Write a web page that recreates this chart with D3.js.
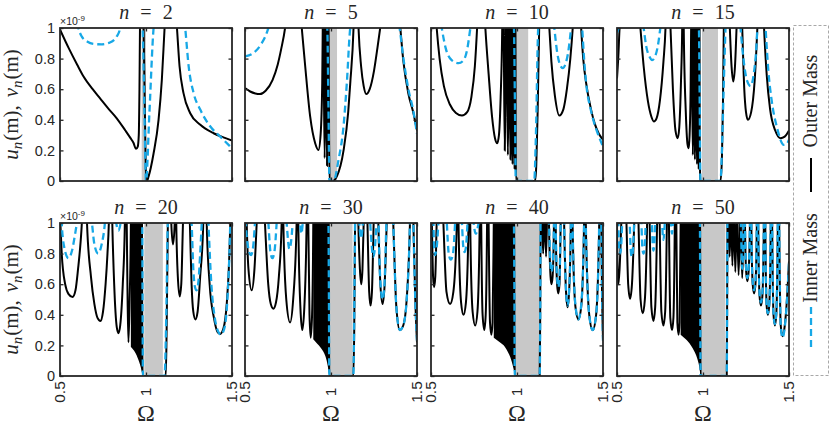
<!DOCTYPE html>
<html><head><meta charset="utf-8">
<script src="https://cdn.jsdelivr.net/npm/d3@7"></script>
<style>body{margin:0;background:#fff}</style>
</head><body><svg id="c" width="830" height="425"></svg>
<script>
const nValues=[2,5,10,15,20,30,40,50];
const xTicks=[0.5,1,1.5];
const xTickLabels=["0.5","1","1.5"];
const yTicks=[0,0.2,0.4,0.6,0.8,1];
const yTickLabels=["0","0.2","0.4","0.6","0.8","1"];
const legendLabels=["Outer Mass","Inner Mass"];
const exponentLabel="-9";

// Omega, amplitude (x1e-9); values > 1 lie above the visible range
const outer2=[[0.5,0.99],[0.55,0.87],[0.6,0.76],[0.636,0.685],[0.69,0.6],[0.733,0.54],[0.78,0.475],[0.83,0.41],[0.88,0.33],[0.91,0.28],[0.927,0.25],[0.942,0.21],[0.952,0.225],[0.958,0.3],[0.962,0.6],[0.965,1.0],[0.975,1.6],[0.986,1.0],[0.993,0.5],[1.0,0.05],[1.005,0.0],[1.015,0.03],[1.044,0.18],[1.073,0.40],[1.092,0.66],[1.108,1.0],[1.14,1.6],[1.18,1.0],[1.195,0.75],[1.218,0.574],[1.257,0.443],[1.316,0.367],[1.393,0.312],[1.45,0.285],[1.5,0.265]];
const inner2=[[0.5,1.6],[0.58,1.2],[0.607,1.0],[0.626,0.945],[0.66,0.91],[0.7,0.895],[0.743,0.893],[0.79,0.905],[0.83,0.945],[0.85,1.0],[0.9,1.6],[0.98,1.0],[0.991,0.45],[1.0,0.0],[1.02,0.45],[1.044,1.0],[1.13,1.6],[1.228,1.0],[1.248,0.75],[1.277,0.574],[1.316,0.465],[1.374,0.356],[1.432,0.29],[1.5,0.214]];
const outer5=[[0.5,0.607],[0.53,0.585],[0.56,0.572],[0.587,0.568],[0.62,0.59],[0.66,0.66],[0.69,0.76],[0.71,0.86],[0.733,1.0],[0.78,1.6],[0.83,1.0],[0.85,0.75],[0.879,0.42],[0.908,0.247],[0.927,0.203],[0.94,0.31],[0.949,0.64],[0.952,1.0],[0.955,1.6],[0.959,0.6],[0.963,0.15],[0.967,0.6],[0.97,1.6],[0.974,0.5],[0.977,0.1],[0.98,1.0],[0.983,1.6],[0.986,1.0],[0.989,0.3],[0.992,0.0],[1.01,0.0],[1.034,0.03],[1.073,0.2],[1.1,0.45],[1.112,0.64],[1.131,1.0],[1.145,1.6],[1.16,1.0],[1.175,0.75],[1.19,0.62],[1.205,0.568],[1.225,0.6],[1.25,0.72],[1.27,0.87],[1.286,1.0],[1.35,1.6],[1.403,1.0],[1.42,0.79],[1.45,0.57],[1.48,0.44],[1.5,0.33]];
const inner5=[[0.5,0.814],[0.549,0.836],[0.597,0.9],[0.62,0.95],[0.636,1.0],[0.8,1.6],[0.978,1.0],[0.985,0.5],[0.991,0.0],[1.015,0.0],[1.044,0.14],[1.073,0.36],[1.092,0.64],[1.112,1.0],[1.25,1.6],[1.399,1.0],[1.42,0.81],[1.45,0.6],[1.48,0.45],[1.5,0.31]];
const outer10=[[0.5,1.6],[0.533,1.0],[0.55,0.8],[0.575,0.62],[0.61,0.5],[0.645,0.445],[0.68,0.428],[0.71,0.45],[0.735,0.55],[0.755,0.75],[0.768,1.0],[0.79,1.6],[0.816,1.0],[0.835,0.7],[0.855,0.42],[0.872,0.28],[0.885,0.247],[0.895,0.3],[0.905,0.55],[0.914,1.0],[0.919,1.6],[0.924,0.8],[0.929,0.2],[0.934,0.8],[0.939,1.6],[0.943,0.6],[0.947,0.17],[0.951,0.6],[0.955,1.6],[0.959,0.5],[0.962,0.14],[0.965,0.5],[0.968,1.6],[0.971,0.4],[0.974,0.11],[0.977,0.4],[0.98,1.6],[0.983,0.35],[0.986,0.08],[0.988,0.6],[0.99,1.6],[0.992,0.5],[0.994,0.0],[1.05,0.0],[1.105,0.0],[1.112,0.1],[1.12,0.45],[1.129,1.0],[1.16,1.6],[1.188,1.0],[1.2,0.78],[1.22,0.56],[1.246,0.428],[1.27,0.47],[1.29,0.6],[1.31,0.8],[1.324,1.0],[1.35,1.6],[1.373,1.0],[1.385,0.8],[1.402,0.64],[1.43,0.47],[1.451,0.378],[1.475,0.31],[1.5,0.27]];
const inner10=[[0.5,1.6],[0.5625,1.0],[0.585,0.87],[0.62,0.79],[0.66,0.77],[0.69,0.79],[0.712,0.87],[0.729,1.0],[0.85,1.6],[0.982,1.0],[0.988,0.5],[0.993,0.0],[1.1,0.0],[1.11,0.3],[1.123,1.0],[1.17,1.6],[1.217,1.0],[1.235,0.83],[1.25,0.76],[1.266,0.738],[1.28,0.76],[1.3,0.86],[1.314,1.0],[1.345,1.6],[1.379,1.0],[1.39,0.8],[1.402,0.64],[1.43,0.46],[1.46,0.34],[1.48,0.28],[1.5,0.225]];
const outer15=[[0.5,0.67],[0.508,0.82],[0.515,1.0],[0.58,1.6],[0.636,1.0],[0.655,0.75],[0.68,0.52],[0.7,0.42],[0.714,0.389],[0.73,0.41],[0.75,0.53],[0.77,0.78],[0.782,1.0],[0.795,1.6],[0.811,1.0],[0.825,0.6],[0.84,0.33],[0.853,0.28],[0.862,0.35],[0.872,0.65],[0.879,1.0],[0.884,1.6],[0.888,1.0],[0.9,0.45],[0.91,0.24],[0.917,0.214],[0.922,0.3],[0.928,0.6],[0.931,1.0],[0.934,1.6],[0.938,0.5],[0.941,0.17],[0.944,0.5],[0.947,1.6],[0.95,0.45],[0.953,0.14],[0.956,0.45],[0.959,1.6],[0.962,0.4],[0.965,0.11],[0.968,0.4],[0.97,1.6],[0.972,0.35],[0.975,0.08],[0.977,0.35],[0.979,1.6],[0.981,0.3],[0.983,0.04],[0.985,0.0],[1.05,0.0],[1.102,0.0],[1.11,0.15],[1.116,0.5],[1.121,1.0],[1.14,1.6],[1.156,1.0],[1.166,0.75],[1.176,0.65],[1.186,0.75],[1.195,1.0],[1.21,1.6],[1.228,1.0],[1.24,0.6],[1.25,0.45],[1.261,0.40],[1.28,0.45],[1.3,0.65],[1.316,1.0],[1.335,1.6],[1.355,1.0],[1.37,0.7],[1.39,0.47],[1.42,0.33],[1.45,0.28],[1.475,0.29],[1.5,0.33]];
const inner15=[[0.5,0.97],[0.51,1.0],[0.58,1.6],[0.655,1.0],[0.67,0.88],[0.69,0.81],[0.704,0.79],[0.72,0.81],[0.74,0.9],[0.752,1.0],[0.87,1.6],[0.976,1.0],[0.981,0.5],[0.985,0.0],[1.102,0.0],[1.11,0.2],[1.12,0.6],[1.131,1.0],[1.17,1.6],[1.218,1.0],[1.235,0.8],[1.255,0.66],[1.277,0.62],[1.295,0.7],[1.31,0.87],[1.316,1.0],[1.34,1.6],[1.364,1.0],[1.38,0.72],[1.4,0.52],[1.43,0.35],[1.47,0.236],[1.485,0.24],[1.5,0.27]];
const outer20=[[0.5,1.05],[0.51,0.8],[0.53,0.6],[0.55,0.535],[0.573,0.516],[0.59,0.56],[0.605,0.7],[0.62,0.88],[0.627,1.0],[0.642,1.6],[0.657,1.0],[0.68,0.65],[0.7,0.47],[0.718,0.38],[0.735,0.36],[0.75,0.42],[0.765,0.6],[0.776,0.8],[0.784,1.0],[0.794,1.6],[0.804,1.0],[0.815,0.6],[0.83,0.32],[0.84,0.28],[0.85,0.33],[0.865,0.6],[0.877,1.0],[0.882,1.6],[0.888,1.0],[0.893,0.5],[0.898,0.22],[0.905,0.5],[0.912,1.0],[0.915,1.6],[0.975,1.6],[0.978,0.4],[0.98,0.0],[1.05,0.0],[1.115,0.0],[1.12,0.3],[1.127,1.0],[1.137,1.6],[1.147,1.0],[1.157,0.86],[1.167,1.0],[1.17,1.6],[1.176,1.0],[1.185,0.65],[1.196,0.52],[1.205,0.6],[1.215,1.0],[1.235,1.6],[1.255,1.0],[1.265,0.6],[1.275,0.42],[1.287,0.37],[1.3,0.42],[1.315,0.65],[1.333,1.0],[1.343,1.6],[1.353,1.0],[1.37,0.6],[1.395,0.38],[1.415,0.29],[1.431,0.275],[1.45,0.31],[1.47,0.48],[1.485,0.8],[1.49,1.0],[1.5,1.4]];
const inner20=[[0.5,1.6],[0.51,1.0],[0.525,0.84],[0.549,0.77],[0.57,0.82],[0.588,0.93],[0.598,1.0],[0.64,1.6],[0.686,1.0],[0.7,0.86],[0.722,0.80],[0.742,0.86],[0.761,1.0],[0.79,1.6],[0.827,1.0],[0.84,0.95],[0.853,1.0],[0.92,1.6],[0.978,1.0],[0.98,0.5],[0.982,0.0],[1.108,0.0],[1.118,0.4],[1.127,1.0],[1.2,1.6],[1.265,1.0],[1.275,0.7],[1.285,0.58],[1.294,0.56],[1.305,0.62],[1.315,0.8],[1.324,1.0],[1.343,1.6],[1.363,1.0],[1.38,0.6],[1.4,0.38],[1.42,0.29],[1.435,0.27],[1.455,0.31],[1.472,0.48],[1.485,0.8],[1.49,1.0],[1.5,1.4]];
const outer30=[[0.5,1.6],[0.51,1.0],[0.52,0.7],[0.539,0.56],[0.555,0.7],[0.568,1.0],[0.59,1.6],[0.616,1.0],[0.635,0.6],[0.65,0.47],[0.665,0.44],[0.68,0.48],[0.697,0.65],[0.713,1.0],[0.718,1.6],[0.723,1.0],[0.74,0.5],[0.762,0.35],[0.78,0.5],[0.8,1.0],[0.805,1.6],[0.81,1.0],[0.822,0.45],[0.833,0.3],[0.845,0.45],[0.858,1.0],[0.863,1.6],[0.868,1.0],[0.875,0.4],[0.882,0.25],[0.89,0.4],[0.897,1.0],[0.9,1.6],[0.985,1.6],[0.988,0.4],[0.99,0.0],[1.06,0.0],[1.13,0.0],[1.135,0.3],[1.14,1.0],[1.15,1.6],[1.159,1.0],[1.168,0.7],[1.176,0.6],[1.183,0.7],[1.19,1.0],[1.2,1.6],[1.212,1.0],[1.222,0.55],[1.23,0.46],[1.238,0.55],[1.248,1.0],[1.26,1.6],[1.275,1.0],[1.287,0.6],[1.3,0.47],[1.312,0.6],[1.324,1.0],[1.343,1.6],[1.362,1.0],[1.38,0.45],[1.4,0.3],[1.42,0.33],[1.44,0.5],[1.459,1.0],[1.469,1.6],[1.479,1.0],[1.49,0.5],[1.5,0.22]];
const inner30=[[0.5,1.6],[0.505,1.0],[0.52,0.83],[0.535,0.79],[0.548,0.85],[0.558,1.0],[0.6,1.6],[0.636,1.0],[0.647,0.82],[0.659,0.77],[0.672,0.82],[0.684,1.0],[0.71,1.6],[0.742,1.0],[0.758,0.83],[0.777,1.0],[0.8,1.6],[0.82,1.0],[0.828,0.93],[0.836,1.0],[0.9,1.6],[0.985,1.0],[0.988,0.5],[0.99,0.0],[1.13,0.0],[1.135,0.4],[1.14,1.0],[1.15,1.6],[1.165,1.0],[1.175,0.9],[1.185,1.0],[1.205,1.6],[1.228,1.0],[1.246,0.78],[1.264,1.0],[1.27,1.6],[1.277,1.0],[1.288,0.6],[1.3,0.5],[1.311,0.6],[1.322,1.0],[1.343,1.6],[1.362,1.0],[1.38,0.45],[1.4,0.3],[1.42,0.33],[1.44,0.5],[1.459,1.0],[1.469,1.6],[1.479,1.0],[1.49,0.5],[1.5,0.23]];
const outer40=[[0.5,1.3],[0.505,1.0],[0.512,0.65],[0.518,0.58],[0.525,0.65],[0.533,1.0],[0.55,1.6],[0.572,1.0],[0.59,0.55],[0.611,0.47],[0.63,0.55],[0.65,1.0],[0.655,1.6],[0.66,1.0],[0.675,0.48],[0.689,0.40],[0.703,0.48],[0.718,1.0],[0.723,1.6],[0.728,1.0],[0.742,0.42],[0.757,0.33],[0.77,0.42],[0.783,1.0],[0.788,1.6],[0.792,1.0],[0.8,0.4],[0.81,0.3],[0.818,0.4],[0.826,1.0],[0.83,1.6],[0.835,1.0],[0.843,0.35],[0.851,0.27],[0.858,0.35],[0.865,1.0],[0.87,1.6],[0.982,1.6],[0.985,0.4],[0.987,0.0],[1.06,0.0],[1.132,0.0],[1.135,0.4],[1.137,1.0],[1.142,1.6],[1.147,1.0],[1.152,0.8],[1.157,1.0],[1.16,1.6],[1.164,1.0],[1.169,0.78],[1.174,1.0],[1.18,1.6],[1.186,1.0],[1.195,0.65],[1.2,0.6],[1.207,0.65],[1.215,1.0],[1.22,1.6],[1.225,1.0],[1.233,0.6],[1.24,0.54],[1.247,0.6],[1.254,1.0],[1.265,1.6],[1.274,1.0],[1.285,0.55],[1.294,0.45],[1.303,0.55],[1.313,1.0],[1.318,1.6],[1.323,1.0],[1.34,0.45],[1.357,0.37],[1.373,0.45],[1.39,1.0],[1.395,1.6],[1.40,1.0],[1.42,0.4],[1.44,0.3],[1.46,0.4],[1.478,1.0],[1.484,1.6],[1.49,1.0],[1.495,0.5],[1.5,0.24]];
const inner40=[[0.5,1.6],[0.514,1.0],[0.518,0.84],[0.523,0.79],[0.533,0.84],[0.543,1.0],[0.57,1.6],[0.592,1.0],[0.603,0.8],[0.615,0.76],[0.628,0.8],[0.64,1.0],[0.66,1.6],[0.68,1.0],[0.688,0.84],[0.695,0.81],[0.703,0.84],[0.712,1.0],[0.73,1.6],[0.748,1.0],[0.761,0.93],[0.777,1.0],[0.88,1.6],[0.982,1.0],[0.985,0.5],[0.987,0.0],[1.132,0.0],[1.135,0.4],[1.137,1.0],[1.16,1.6],[1.186,1.0],[1.195,0.72],[1.2,0.68],[1.207,0.72],[1.215,1.0],[1.22,1.6],[1.225,1.0],[1.233,0.64],[1.24,0.58],[1.247,0.64],[1.254,1.0],[1.265,1.6],[1.274,1.0],[1.285,0.56],[1.294,0.46],[1.303,0.56],[1.313,1.0],[1.318,1.6],[1.323,1.0],[1.34,0.46],[1.357,0.37],[1.373,0.46],[1.39,1.0],[1.395,1.6],[1.40,1.0],[1.42,0.4],[1.44,0.3],[1.46,0.4],[1.478,1.0],[1.484,1.6],[1.49,1.0],[1.495,0.5],[1.5,0.23]];
const outer50=[[0.5,1.0],[0.503,0.7],[0.508,0.6],[0.515,0.7],[0.525,1.0],[0.54,1.6],[0.555,1.0],[0.565,0.6],[0.576,0.505],[0.587,0.6],[0.6,1.0],[0.612,1.6],[0.625,1.0],[0.637,0.5],[0.65,0.41],[0.662,0.5],[0.675,1.0],[0.683,1.6],[0.69,1.0],[0.7,0.45],[0.712,0.36],[0.722,0.45],[0.733,1.0],[0.74,1.6],[0.748,1.0],[0.758,0.42],[0.77,0.33],[0.78,0.42],[0.79,1.0],[0.796,1.6],[0.802,1.0],[0.81,0.38],[0.82,0.3],[0.828,0.38],[0.836,1.0],[0.84,1.6],[0.845,1.0],[0.851,0.35],[0.858,0.27],[0.864,0.35],[0.87,1.0],[0.873,1.6],[0.982,1.6],[0.984,0.4],[0.986,0.0],[1.06,0.0],[1.138,0.0],[1.14,0.4],[1.142,1.0],[1.146,1.6],[1.15,1.0],[1.155,0.78],[1.16,1.0],[1.163,1.6],[1.166,1.0],[1.171,0.72],[1.176,1.0],[1.179,1.6],[1.182,1.0],[1.188,0.68],[1.194,1.0],[1.197,1.6],[1.2,1.0],[1.207,0.66],[1.214,1.0],[1.217,1.6],[1.22,1.0],[1.228,0.64],[1.236,1.0],[1.24,1.6],[1.244,1.0],[1.251,0.68],[1.258,0.62],[1.265,0.68],[1.273,1.0],[1.277,1.6],[1.281,1.0],[1.289,0.6],[1.297,0.54],[1.305,0.6],[1.313,1.0],[1.317,1.6],[1.321,1.0],[1.329,0.52],[1.337,0.46],[1.345,0.52],[1.354,1.0],[1.358,1.6],[1.362,1.0],[1.37,0.46],[1.377,0.4],[1.385,0.46],[1.394,1.0],[1.398,1.6],[1.402,1.0],[1.41,0.4],[1.418,0.33],[1.426,0.4],[1.435,1.0],[1.439,1.6],[1.443,1.0],[1.452,0.33],[1.462,0.26],[1.472,0.3],[1.485,0.45],[1.5,0.75]];
const inner50=[[0.5,1.6],[0.508,1.0],[0.513,0.83],[0.518,0.8],[0.523,0.83],[0.53,1.0],[0.55,1.6],[0.574,1.0],[0.58,0.82],[0.586,0.78],[0.592,0.82],[0.6,1.0],[0.625,1.6],[0.642,1.0],[0.648,0.83],[0.654,0.8],[0.66,0.83],[0.667,1.0],[0.69,1.6],[0.703,1.0],[0.708,0.85],[0.712,0.82],[0.717,0.85],[0.722,1.0],[0.745,1.6],[0.762,1.0],[0.77,0.89],[0.778,1.0],[0.8,1.6],[0.814,1.0],[0.82,0.93],[0.826,1.0],[0.9,1.6],[0.982,1.0],[0.984,0.5],[0.986,0.0],[1.138,0.0],[1.14,0.4],[1.142,1.0],[1.18,1.6],[1.22,1.0],[1.228,0.7],[1.236,1.0],[1.24,1.6],[1.244,1.0],[1.251,0.7],[1.258,0.64],[1.265,0.7],[1.273,1.0],[1.277,1.6],[1.281,1.0],[1.289,0.62],[1.297,0.56],[1.305,0.62],[1.313,1.0],[1.317,1.6],[1.321,1.0],[1.329,0.54],[1.337,0.48],[1.345,0.54],[1.354,1.0],[1.358,1.6],[1.362,1.0],[1.37,0.47],[1.377,0.41],[1.385,0.47],[1.394,1.0],[1.398,1.6],[1.402,1.0],[1.41,0.41],[1.418,0.34],[1.426,0.41],[1.435,1.0],[1.439,1.6],[1.443,1.0],[1.452,0.33],[1.462,0.25],[1.472,0.29],[1.485,0.44],[1.5,0.74]];

// lower envelope of the densely packed resonances (black region)
const dense20=[[0.912,0.19],[0.931,0.165],[0.951,0.12],[0.97,0.055],[0.98,0.0]];
const dense30=[[0.897,0.24],[0.92,0.21],[0.94,0.185],[0.955,0.16],[0.967,0.13],[0.977,0.09],[0.985,0.04],[0.99,0.0]];
const dense40=[[0.865,0.25],[0.9,0.22],[0.93,0.19],[0.95,0.15],[0.965,0.11],[0.975,0.07],[0.982,0.035],[0.987,0.0]];
const dense50=[[0.87,0.27],[0.9,0.24],[0.93,0.2],[0.95,0.16],[0.965,0.12],[0.975,0.08],[0.981,0.04],[0.986,0.0]];

// grey band (band gap) per panel
const bandLo=[0.975,0.985,0.995,0.994,0.99,0.994,0.99,0.985];
const bandHi=[1.0,1.035,1.065,1.087,1.098,1.125,1.128,1.13];

const outerSeries=[outer2,outer5,outer10,outer15,outer20,outer30,outer40,outer50];
const innerSeries=[inner2,inner5,inner10,inner15,inner20,inner30,inner40,inner50];
const denseSeries=[null,null,null,null,dense20,dense30,dense40,dense50];

const CYAN="#17a8e6", AX="#262626";
const SERIF="'Liberation Serif','DejaVu Serif',serif", SANS="'Liberation Sans',Arial,sans-serif";
const svg=d3.select("#c");
const defs=svg.append("defs");
const colX=[60,245,431,617], rowY=[28,223], PW=172, PH=153;

nValues.forEach((n,i)=>{
  const r=Math.floor(i/4), c=i%4, L=colX[c], T=rowY[r];
  const x=d3.scaleLinear().domain([0.5,1.5]).range([L,L+PW]);
  const y=d3.scaleLinear().domain([0,1]).range([T+PH,T]);
  defs.append("clipPath").attr("id","clip"+i).append("rect").attr("x",L).attr("y",T).attr("width",PW).attr("height",PH);
  const g=svg.append("g");
  const pg=g.append("g").attr("clip-path",`url(#clip${i})`);
  pg.append("rect").attr("x",x(bandLo[i])).attr("y",T).attr("width",x(bandHi[i])-x(bandLo[i])).attr("height",PH).attr("fill","#c8c8c8");
  const line=d3.line().x(d=>x(d[0])).y(d=>y(d[1])).curve(d3.curveMonotoneX);
  pg.append("path").attr("d",line(outerSeries[i])).attr("fill","none").attr("stroke","#000").attr("stroke-width",2);
  if(denseSeries[i]){
    const area=d3.area().x(d=>x(d[0])).y0(d=>y(d[1])).y1(y(1.05)).curve(d3.curveMonotoneX);
    pg.append("path").attr("d",area(denseSeries[i])).attr("fill","#000");
  }
  pg.append("path").attr("d",line(innerSeries[i])).attr("fill","none").attr("stroke",CYAN).attr("stroke-width",2.3).attr("stroke-dasharray","7,4");

  const ax=(a)=>a.attr("font-family",SANS).attr("font-size",14.5).call(s=>s.select(".domain").remove()).call(s=>s.selectAll("line").attr("stroke",AX).attr("stroke-width",1.3)).call(s=>s.selectAll("text").attr("fill",AX));
  g.append("g").attr("transform",`translate(${L},0)`).call(d3.axisLeft(y).tickValues(yTicks).tickSizeInner(-3.5).tickSizeOuter(0).tickPadding(5).tickFormat((d,k)=>c===0?yTickLabels[k]:"")).call(ax);
  g.append("g").attr("transform",`translate(${L+PW},0)`).call(d3.axisRight(y).tickValues(yTicks).tickSizeInner(-3.5).tickSizeOuter(0).tickFormat("")).call(ax);
  g.append("g").attr("transform",`translate(0,${T})`).call(d3.axisTop(x).tickValues(xTicks).tickSizeInner(-3.5).tickSizeOuter(0).tickFormat("")).call(ax);
  const bx=g.append("g").attr("transform",`translate(0,${T+PH})`).call(d3.axisBottom(x).tickValues(xTicks).tickSizeInner(-3.5).tickSizeOuter(0).tickFormat((d,k)=>r===1?xTickLabels[k]:"")).call(ax);
  bx.selectAll("text").attr("x",0).attr("y",0).attr("dy","0.35em").attr("font-size",15.5).attr("text-anchor","middle").attr("transform",`translate(-1,${392-(T+PH)}) rotate(-90)`);

  g.append("rect").attr("x",L).attr("y",T).attr("width",PW).attr("height",PH).attr("fill","none").attr("stroke",AX).attr("stroke-width",1.8);

  const t=g.append("text").attr("x",L+PW/2).attr("y",T-9).attr("text-anchor","middle").attr("font-family",SERIF).attr("font-size",20).attr("fill",AX);
  t.append("tspan").attr("font-style","italic").text("n");
  t.append("tspan").attr("dx",11).text("=");
  t.append("tspan").attr("dx",11).text(String(n));

  if(c===0){
    const e=g.append("text").attr("x",L).attr("y",T-3.5).attr("font-family",SANS).attr("font-size",10.5).attr("fill",AX);
    e.append("tspan").text("\u00d710");
    e.append("tspan").attr("font-size",8).attr("dy",-4).text(exponentLabel);
    const yl=g.append("text").attr("transform",`translate(18,${T+PH/2}) rotate(-90)`).attr("text-anchor","middle").attr("font-family",SERIF).attr("font-size",21).attr("fill",AX);
    yl.append("tspan").attr("font-style","italic").text("u");
    yl.append("tspan").attr("font-style","italic").attr("font-size",15).attr("dy",4).text("n");
    yl.append("tspan").attr("dy",-4).attr("dx",1).text("(m),");
    yl.append("tspan").attr("dx",8).attr("font-style","italic").text("v");
    yl.append("tspan").attr("font-style","italic").attr("font-size",15).attr("dy",4).text("n");
    yl.append("tspan").attr("dy",-4).attr("dx",1).text("(m)");
  }
  if(r===1){
    g.append("text").attr("x",L+PW/2).attr("y",421).attr("text-anchor","middle").attr("font-family",SERIF).attr("font-size",24).attr("fill",AX).text("\u03a9");
  }
});

const lg=svg.append("g");
lg.append("rect").attr("x",793.5).attr("y",25.5).attr("width",35).attr("height",350).attr("fill","none").attr("stroke","#a8a8a8").attr("stroke-width",1).attr("stroke-dasharray","3,2");
lg.append("text").attr("transform","translate(817,101) rotate(-90)").attr("text-anchor","middle").attr("font-family",SERIF).attr("font-size",20).attr("fill",AX).text(legendLabels[0]);
lg.append("line").attr("x1",811).attr("x2",811).attr("y1",158).attr("y2",192).attr("stroke","#000").attr("stroke-width",2);
lg.append("text").attr("transform","translate(817,258) rotate(-90)").attr("text-anchor","middle").attr("font-family",SERIF).attr("font-size",20).attr("fill",AX).text(legendLabels[1]);
lg.append("line").attr("x1",811).attr("x2",811).attr("y1",307).attr("y2",350).attr("stroke",CYAN).attr("stroke-width",2.3).attr("stroke-dasharray","7,4");
</script></body></html>
